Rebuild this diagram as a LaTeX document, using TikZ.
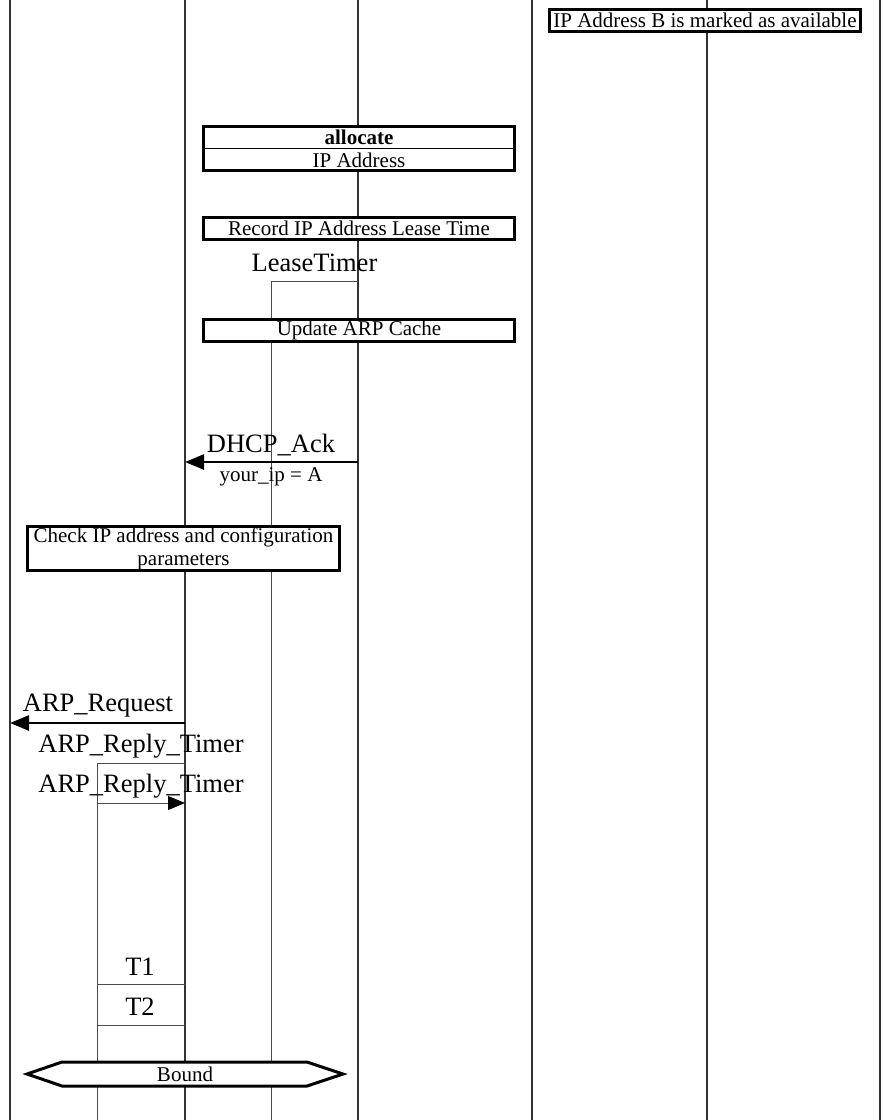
\documentclass[tikz,border=0pt]{standalone}
\usepackage{fontspec}
\setmainfont{Liberation Serif}
\usetikzlibrary{arrows.meta}
\begin{document}
\begin{tikzpicture}[
  x=1pt, y=-1pt,
  life/.style={draw=black!80, line width=1.1pt},
  timer/.style={draw=black!70, line width=1pt},
  actbox/.style={rectangle, draw=black, fill=white, line width=3pt, inner sep=0pt, minimum width=311pt, minimum height=22pt, font=\fontsize{21}{23}\selectfont},
  msg/.style={draw=black, line width=2.6pt, -{Triangle[length=19pt,width=15pt]}},
  biglabel/.style={inner sep=0pt, font=\fontsize{26.5}{29}\selectfont},
  smalllabel/.style={inner sep=0pt, font=\fontsize{21}{23}\selectfont}
]
  \useasboundingbox (0,0) rectangle (883,1120);

  % Lineas de vida
  \coordinate (l1t) at (10,0);   \coordinate (l1b) at (10,1120);
  \coordinate (l2t) at (185,0);  \coordinate (l2b) at (185,1120);
  \coordinate (l3t) at (358,0);  \coordinate (l3b) at (358,1120);
  \coordinate (l4t) at (532,0);  \coordinate (l4b) at (532,1120);
  \coordinate (l5t) at (707,0);  \coordinate (l5b) at (707,1120);
  \coordinate (l6t) at (880,0);  \coordinate (l6b) at (880,1120);
  \draw[life] (l1t) -- (l1b);
  \draw[life] (l2t) -- (l2b);
  \draw[life] (l3t) -- (l3b);
  \draw[life] (l4t) -- (l4b);
  \draw[life] (l5t) -- (l5b);
  \draw[life] (l6t) -- (l6b);

  % Temporizadores
  \coordinate (lt1) at (358,281); \coordinate (lt2) at (271,281); \coordinate (lt3) at (271,1120);
  \draw[timer] (lt1) -- (lt2) -- (lt3);
  \coordinate (rt1) at (185,763); \coordinate (rt2) at (97,763);
  \coordinate (rt3) at (97,803);  \coordinate (rt4) at (185,803); \coordinate (rt5) at (97,1120);
  \draw[timer] (rt1) -- (rt2) -- (rt5);
  \draw[timer, -{Triangle[length=17pt,width=14pt,color=black]}] (rt3) -- (rt4);
  \coordinate (t1a) at (97,984);  \coordinate (t1b) at (185,984);
  \coordinate (t2a) at (97,1025); \coordinate (t2b) at (185,1025);
  \draw[timer] (t1a) -- (t1b);
  \draw[timer] (t2a) -- (t2b);

  % Cajas de accion
  \node[actbox] (avail) at (705,20.5) {IP Address B is marked as available};
  \node[actbox, minimum height=44pt] (alloc) at (359,148.5) {};
  \draw[line width=1pt] (alloc.west) -- (alloc.east);
  \node[inner sep=0pt, font=\fontsize{21}{23}\selectfont\bfseries] (allocname) at (359,137) {allocate};
  \node[smalllabel] (allocip) at (359,160.5) {IP Address};
  \node[actbox] (record) at (359,228) {Record IP Address Lease Time};
  \node[actbox] (update) at (359,330) {Update ARP Cache};
  \node[actbox, minimum width=312pt, minimum height=44pt, align=center] (check) at (183.5,548.5)
    {Check IP address and configuration\\parameters};

  % Mensajes
  \coordinate (ackfrom) at (358,462); \coordinate (ackto) at (185,462);
  \draw[msg] (ackfrom) -- (ackto);
  \coordinate (reqfrom) at (185,723); \coordinate (reqto) at (10,723);
  \draw[msg] (reqfrom) -- (reqto);

  % Estado final
  \coordinate (b1) at (27,1074);  \coordinate (b2) at (62,1062);  \coordinate (b3) at (307,1062);
  \coordinate (b4) at (343,1074); \coordinate (b5) at (307,1086); \coordinate (b6) at (62,1086);
  \draw[line width=3pt, fill=white] (b1) -- (b2) -- (b3) -- (b4) -- (b5) -- (b6) -- cycle;
  \node[smalllabel] (bound) at (185,1074) {Bound};

  % Etiquetas
  \node[biglabel] (leaselbl) at (314.5,263) {LeaseTimer};
  \node[biglabel] (acklbl) at (271,445) {DHCP\_Ack};
  \node[smalllabel] (ipLbl) at (271,477) {your\_ip = A};
  \node[biglabel] (reqlbl) at (98,706) {ARP\_Request};
  \node[biglabel] (rep1lbl) at (141,746) {ARP\_Reply\_Timer};
  \node[biglabel] (rep2lbl) at (141,786) {ARP\_Reply\_Timer};
  \node[biglabel] (t1lbl) at (140,967) {T1};
  \node[biglabel] (t2lbl) at (140,1007) {T2};
\end{tikzpicture}
\end{document}
